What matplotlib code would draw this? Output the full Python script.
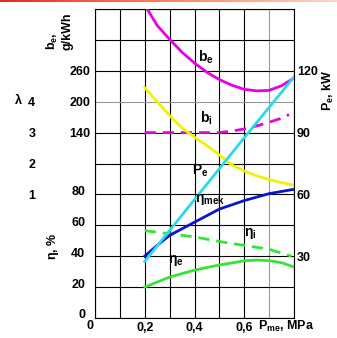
import numpy as np
import matplotlib
matplotlib.use('Agg')
import matplotlib.pyplot as plt
import matplotlib.transforms as mtransforms

plt.rcParams['font.family'] = ['Liberation Sans', 'DejaVu Sans']
plt.rcParams['font.weight'] = 'bold'
plt.rcParams['font.size'] = 9
plt.rcParams['mathtext.fontset'] = 'custom'
for k in ('rm', 'it', 'bf', 'sf'):
    plt.rcParams['mathtext.' + k] = 'Liberation Sans:bold'

# --- data ---
# mean effective pressure, MPa
p_be = [0.2, 0.25, 0.3, 0.35, 0.4, 0.45, 0.5, 0.55, 0.6, 0.65, 0.7, 0.75, 0.8]
be = [388, 348, 321, 296, 275, 257, 243, 232, 224, 221, 222, 231, 246]        # g/kWh

p_bi = [0.2, 0.3, 0.4, 0.5, 0.55, 0.6, 0.65, 0.7, 0.75, 0.78]
bi = [140, 140, 140, 140, 143, 147, 153, 160, 168, 175]                        # g/kWh

p_lam = [0.2, 0.25, 0.3, 0.35, 0.4, 0.45, 0.5, 0.55, 0.6, 0.65, 0.7, 0.75, 0.8]
lam = [4.45, 4.0, 3.55, 3.15, 2.85, 2.58, 2.28, 1.95, 1.76, 1.6, 1.48, 1.38, 1.3]

p_pe = [0.2, 0.4, 0.6, 0.8]
pe = [27.5, 57.5, 87.5, 117]                                                   # kW

p_mek = [0.2, 0.25, 0.3, 0.4, 0.5, 0.6, 0.7, 0.8]
eta_mek = [40, 47, 53.5, 62, 70.5, 76, 80.5, 83.3]                             # %

p_i = [0.2, 0.3, 0.4, 0.5, 0.6, 0.7, 0.79]
eta_i = [56.5, 54.5, 52.5, 49.5, 47, 44.5, 40]

p_e = [0.2, 0.3, 0.4, 0.5, 0.6, 0.65, 0.7, 0.75, 0.8]
eta_e = [20, 26.5, 31, 34.3, 37, 37.5, 37.1, 35.8, 33]

eta_ticks = [0, 20, 40, 60, 80]
be_ticks = [140, 200, 260]
lam_ticks = [1, 2, 3, 4]
pe_ticks = [30, 60, 90, 120]
x_ticks = [0.2, 0.4, 0.6]

fig = plt.figure(figsize=(3.37, 3.38), dpi=100)
ax = fig.add_axes([95 / 337, 1 - 318 / 338, 199 / 337, 309 / 338])

# grid axes (eta, %)
ax.set_xlim(0, 0.8)
ax.set_ylim(0, 200)
ax.set_xticks(np.arange(0, 0.81, 0.1))
ax.set_xticklabels(['' if round(v, 1) not in x_ticks else f'{v:.1f}'.replace('.', ',')
                    for v in np.arange(0, 0.81, 0.1)])
ax.set_yticks(range(0, 201, 20))
ax.set_yticklabels([str(v) if v in eta_ticks else '' for v in range(0, 201, 20)])
ax.tick_params(length=0, labelsize=9)
ax.tick_params(axis='y', pad=7)
ax.tick_params(axis='x', pad=3)
# eta labels sit a little above their grid lines
up = mtransforms.ScaledTranslation(0, 4 / 100, fig.dpi_scale_trans)
for lab in ax.get_yticklabels():
    lab.set_transform(lab.get_transform() + up)
ax.grid(True, color='black', lw=0.8)
ax.get_ygridlines()[7].set_color('#999999')
ax.get_xgridlines()[7].set_color('#999999')
for s in ax.spines.values():
    s.set_linewidth(0.8)

# b axis (g/kWh) shares the grid: 60 g/kWh per division
axb = ax.twinx()
axb.set_ylim(-220, 380)
axb.yaxis.tick_left()
axb.set_yticks(be_ticks)
axb.tick_params(length=0, pad=3, labelsize=9)
for s in axb.spines.values():
    s.set_visible(False)

# lambda axis
axl = ax.twinx()
axl.set_ylim(-3, 7)
axl.yaxis.tick_left()
axl.set_yticks(lam_ticks)
axl.tick_params(length=0, pad=43, labelsize=9)
for s in axl.spines.values():
    s.set_visible(False)

# Pe axis (kW)
axp = ax.twinx()
axp.set_ylim(0, 150)
axp.set_yticks(pe_ticks)
axp.tick_params(length=0, pad=2, labelsize=9)
for s in axp.spines.values():
    s.set_visible(False)

lw = 2.0
ax.plot(p_e, eta_e, color='#33e633', lw=lw)
ax.plot(p_i, eta_i, color='#33e633', lw=lw, ls=(0, (4, 2.5)))
ax.plot(p_mek, eta_mek, color='#0a14c8', lw=lw)
axl.plot(p_lam, lam, color='#f2f200', lw=lw)
axb.plot(p_bi, bi, color='#e600e6', lw=lw, ls=(0, (4, 2.5)))
axb.plot(p_be, be, color='#e600e6', lw=lw)
axp.plot(p_pe, pe, color='#2ad8f0', lw=lw)

# curve labels (on the top axes so no line covers them)
kw = dict(va='center', fontsize=10, transform=ax.transData)
axp.text(0.446, 169, r'$\mathregular{b_e}$', ha='center', **kw)
axp.text(0.446, 129, r'$\mathregular{b_i}$', ha='center', **kw)
axp.text(0.425, 95.5, r'$\mathregular{P_e}$', ha='center', **kw)
axp.text(0.403, 77, r'$\mathregular{\eta_{mek}}$', ha='left', **kw)
axp.text(0.623, 55, r'$\mathregular{\eta_i}$', ha='center', **kw)
axp.text(0.325, 37.5, r'$\mathregular{\eta_e}$', ha='center', **kw)

# axis titles
fig.text(52 / 337, 1 - 50 / 338, r'$\mathregular{b_e,}$', rotation=90, ha='center', va='bottom')
fig.text(68 / 337, 1 - 50 / 338, 'g/kWh', rotation=90, ha='center', va='bottom')
fig.text(18 / 337, 1 - 100 / 338, r'$\mathregular{\lambda}$', ha='center', va='center')
fig.text(53 / 337, 1 - 246 / 338, r'$\mathregular{\eta}$, %', rotation=90, ha='center', va='center')
fig.text(328 / 337, 1 - 90 / 338, r'$\mathregular{P_e}$, kW', rotation=90, ha='center', va='center')
fig.text(90 / 337, 1 - 326 / 338, '0', ha='center', va='center')
fig.text(258 / 337, 1 - 326 / 338, r'$\mathregular{P_{me}}$, MPa', ha='left', va='center')

# red strip along the top edge
strip = fig.add_axes([0, 1 - 2.5 / 338, 1, 2.5 / 338])
grad = np.linspace(1, 0, 256)[None, :]
strip.imshow(grad, aspect='auto', cmap='Reds', vmin=-0.3, vmax=1.6)
strip.axis('off')

fig.savefig('out.png', dpi=100)
